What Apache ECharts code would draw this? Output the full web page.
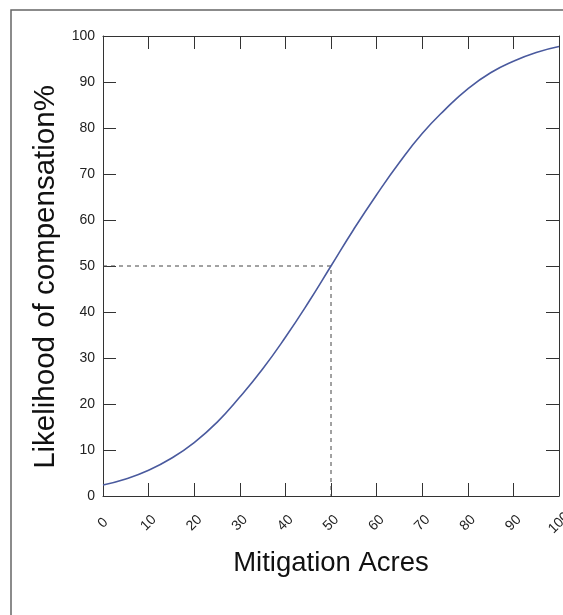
<!DOCTYPE html>
<html>
<head>
<meta charset="utf-8">
<script src="https://cdn.jsdelivr.net/npm/echarts@6/dist/echarts.min.js"></script>
<style>
html,body{margin:0;padding:0;background:#fff;overflow:hidden;}
#chart{width:563px;height:615px;}
</style>
</head>
<body>
<div id="chart"></div>
<script>
// Data
var acres = [0, 5, 10, 15, 20, 25, 30, 35, 40, 45, 50, 55, 60, 65, 70, 75, 80, 85, 90, 95, 100];
var likelihood = [2.4, 3.7, 5.6, 8.2, 11.6, 16, 21.5, 27.6, 34.5, 42, 50, 58, 65.5, 72.5, 78.8, 84, 88.5, 92, 94.5, 96.4, 97.7];
var guideX = [0, 50, 50];
var guideY = [50, 50, 0];
var xTicks = [0, 10, 20, 30, 40, 50, 60, 70, 80, 90, 100];
var yTicks = [0, 10, 20, 30, 40, 50, 60, 70, 80, 90, 100];
var xTitle = 'Mitigation Acres';
var yTitle = 'Likelihood of compensation%';

var chart = echarts.init(document.getElementById('chart'), null, {renderer: 'canvas'});
var font = 'Liberation Sans, Arial, sans-serif';
var axisCol = '#333';
var tickStyle = {show: true, inside: true, length: 13, lineStyle: {color: axisCol, width: 1}};

var curve = acres.map(function (x, i) { return [x, likelihood[i]]; });
var guide = guideX.map(function (x, i) { return [x, guideY[i]]; });

chart.setOption({
  animation: false,
  backgroundColor: '#fff',
  graphic: [{
    type: 'rect',
    shape: {x: 11, y: 10, width: 700, height: 700},
    style: {fill: 'none', stroke: '#666', lineWidth: 1.5},
    silent: true
  }],
  grid: {left: 103, top: 36, right: 4, bottom: 119, containLabel: false, outerBoundsMode: 'none'},
  xAxis: [{
    type: 'value', min: xTicks[0], max: xTicks[xTicks.length - 1], interval: 10,
    position: 'bottom',
    name: xTitle, nameLocation: 'middle', nameGap: 53,
    nameTextStyle: {fontFamily: font, fontSize: 27.5, color: '#111'},
    axisLine: {show: true, onZero: false, lineStyle: {color: axisCol, width: 1}},
    axisTick: tickStyle,
    axisLabel: {rotate: 45, align: 'center', verticalAlign: 'middle', margin: 27,
      fontFamily: font, fontSize: 14, color: '#222'},
    splitLine: {show: false}
  }, {
    type: 'value', min: xTicks[0], max: xTicks[xTicks.length - 1], interval: 10,
    position: 'top',
    axisLine: {show: true, onZero: false, lineStyle: {color: axisCol, width: 1}},
    axisTick: tickStyle,
    axisLabel: {show: false},
    splitLine: {show: false}
  }],
  yAxis: [{
    type: 'value', min: yTicks[0], max: yTicks[yTicks.length - 1], interval: 10,
    position: 'left',
    name: yTitle, nameLocation: 'middle', nameGap: 36,
    nameTextStyle: {fontFamily: font, fontSize: 29.5, color: '#111', padding: [0, 22, 0, 0]},
    axisLine: {show: true, onZero: false, lineStyle: {color: axisCol, width: 1}},
    axisTick: tickStyle,
    axisLabel: {margin: 8, fontFamily: font, fontSize: 14, color: '#222'},
    splitLine: {show: false}
  }, {
    type: 'value', min: yTicks[0], max: yTicks[yTicks.length - 1], interval: 10,
    position: 'right',
    axisLine: {show: true, onZero: false, lineStyle: {color: axisCol, width: 1}},
    axisTick: tickStyle,
    axisLabel: {show: false},
    splitLine: {show: false}
  }],
  series: [{
    type: 'line',
    data: guide,
    symbol: 'none',
    lineStyle: {color: '#444', width: 1, type: [4, 4]},
    z: 1
  }, {
    type: 'line',
    data: curve,
    smooth: true,
    symbol: 'none',
    lineStyle: {color: '#4a5a9e', width: 1.6},
    z: 2
  }]
});
</script>
</body>
</html>
